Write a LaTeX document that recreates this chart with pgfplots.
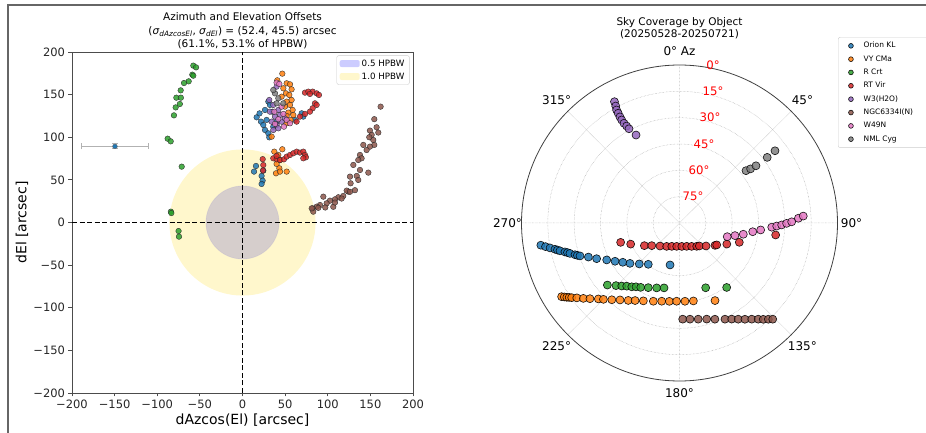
\documentclass[border=0pt]{standalone}
\usepackage{fontspec}
\setmainfont{DejaVu Sans}
\usepackage{pgfplots}
\usepackage{pgfplotstable}
\pgfplotsset{compat=1.18}
\usepgfplotslibrary{polar}
\definecolor{tabblue}{HTML}{1F77B4}
\definecolor{taborange}{HTML}{FF7F0E}
\definecolor{tabgreen}{HTML}{2CA02C}
\definecolor{tabred}{HTML}{D62728}
\definecolor{tabpurple}{HTML}{9467BD}
\definecolor{tabbrown}{HTML}{8C564B}
\definecolor{tabpink}{HTML}{E377C2}
\definecolor{tabgray}{HTML}{7F7F7F}
\definecolor{gold}{RGB}{255,215,0}
\pgfplotsset{
  leftpt/.style={forget plot, only marks, mark=*, mark size=2.8pt,
    mark options={draw=black!85, line width=0.4pt, fill=#1, fill opacity=0.85, draw opacity=0.9}},
  polpt/.style={only marks, mark=*, mark size=4pt, color=#1,
    mark options={draw=black, line width=0.6pt, fill=#1, fill opacity=0.85, draw opacity=0.9}},
}
% ---------- left panel data (dAzcos(El), dEl) ----------
\pgfplotstableread{
x y
26.4 132
30.3 141.8
32.2 137.9
16.6 123.4
21.7 118.3
24.4 114.4
28.3 120.3
26.4 108.5
30.3 104.6
31.4 99.9
69.4 128.1
71.3 124.2
61.5 120.3
36.1 112.4
40.0 118.3
15.8 66.3
13.5 59.7
22.4 54.6
24.4 60.8
23.6 49.1
22.4 45.2
35.0 130.0
20.0 128.0
}\leftorion
\pgfplotstableread{
x y
46.7 174.6
40.8 166.8
51.8 163.3
55.7 162.1
47.9 157.4
57.6 156.2
51.0 151.5
54.9 149.6
45.9 147.6
57.6 143.7
51.8 141.8
55.7 137.9
49.8 135.9
58.8 132.0
53.7 128.9
51.8 125.0
56.5 120.3
51.8 116.4
59.6 126.1
34.2 100.7
46.7 85.9
37.3 83.1
42.0 79.2
44.0 73.3
40.0 68.7
43.2 63.6
39.3 57.7
44.0 59.7
51.8 59.7
}\leftvy
\pgfplotstableread{
x y
-57.7 184
-54.5 182
-58.9 173.4
-57.7 172.2
-63.1 165.6
-68.6 163.6
-72.5 155
-77.6 146.4
-72.3 146.4
-73.5 139
-78.4 135
-80.4 125.7
-87.8 98.3
-84.2 95.2
-71.3 65.5
-84.0 12.7
-83.5 11.1
-75.0 -10.0
-74.5 -16.6
}\leftrcrt
\pgfplotstableread{
x y
73.3 152.3
77.2 153.5
82.3 153.5
87.0 151.5
89.7 149.6
79.1 150.8
85.0 139.8
87.0 137.9
82.3 134.0
79.1 130.0
73.3 127.3
67.4 124.2
63.5 118.3
36.1 75.3
40.0 74.1
44.0 73.3
48.6 74.1
51.8 77.2
55.7 79.2
59.6 81.2
63.5 83.1
67.4 82.0
71.3 83.1
73.3 79.2
74.4 76.5
71.3 75.3
40.0 78.1
23.7 74.3
24.4 67.4
24.0 61.0
}\leftrtvir
\pgfplotstableread{
x y
40.0 159.4
31.4 143.7
36.1 137.9
42.0 132.0
32.2 130.0
38.1 124.2
44.0 126.1
34.2 118.3
40.0 114.4
45.9 118.3
42.0 110.5
36.1 108.5
49.8 122.2
}\leftwthree
\pgfplotstableread{
x y
162.0 135.9
154.6 121.2
157.3 111.7
159.3 105.5
149.5 107.8
151.5 102.8
153.4 96.8
148.7 100.0
154.6 91.0
141.7 91.0
149.5 89.0
145.6 85.0
137.8 79.2
139.7 75.3
135.8 73.3
130.0 67.5
147.6 58.5
137.8 61.6
134.0 54.6
135.8 49.9
126.1 53.8
126.8 46.0
124.1 36.2
122.2 37.4
118.2 31.1
131.9 37.9
126.1 36.0
112.4 29.6
108.5 27.2
102.6 25.6
94.8 30.3
98.7 22.5
90.9 20.5
87.0 18.6
82.3 16.6
83.0 12.7
81.2 16.6
88.9 17.2
97.1 17.6
106.5 18.4
108.5 23.4
116.3 28.1
}\leftngc
\pgfplotstableread{
x y
40.0 164.1
43.2 162.5
37.3 130.0
47.9 127.3
42.0 121.2
51.8 120.3
45.9 135.9
55.7 116.4
38.1 115.6
48.6 112.4
}\leftwfn
\pgfplotstableread{
x y
38.1 151.5
42.0 145.7
36.1 155.4
40.0 139.8
47.9 139.8
}\leftnml
% ---------- right panel data (azimuth, elevation) ----------
\pgfplotstableread{
az el
260.9 10.0
260.0 12.5
259.1 14.9
258.1 17.5
257.5 18.8
256.9 20.1
255.8 22.7
255.2 24.0
254.5 25.2
253.1 27.8
252.4 29.0
251.7 30.3
249.5 34.6
246.7 38.6
243.1 43.5
239.3 47.3
235.3 50.7
230.8 53.6
224.5 57.3
217.1 60.5
192.7 65.5
}\polorion
\pgfplotstableread{
az el
238.0 10.8
237.3 12.0
236.6 13.1
236.0 14.2
235.3 15.3
233.9 17.6
231.9 20.4
229.8 23.2
226.9 26.7
224.9 28.6
221.4 31.7
217.7 34.6
213.5 37.1
209.8 39.1
204.9 41.1
198.5 43.0
192.8 44.3
187.4 45.0
182.1 45.4
176.0 45.3
169.9 44.9
155.4 41.4
}\polvy
\pgfplotstableread{
az el
229.3 35.8
225.4 39.2
222.5 41.3
219.9 43.1
216.8 44.6
214.3 46.0
211.1 47.2
205.8 49.1
199.4 50.8
193.4 52.0
158.0 50.2
143.8 44.5
}\polrcrt
\pgfplotstableread{
az el
251.8 54.7
246.6 59.7
237.2 66.2
230.8 69.6
220.3 72.8
208.8 74.8
198.3 76.0
186.9 76.6
174.4 76.6
162.9 76.1
152.6 75.0
143.6 73.5
139.2 72.7
130.9 70.0
122.2 66.1
120.5 65.4
114.0 60.5
107.9 54.2
97.1 34.8
}\polrtvir
\pgfplotstableread{
az el
331.8 11.6
331.4 14.1
330.9 16.3
330.8 18.4
330.7 20.7
330.7 22.7
330.9 25.0
331.4 27.1
331.8 29.1
333.7 34.1
}\polwthree
\pgfplotstableread{
az el
178.1 35.2
173.8 34.9
169.0 34.2
164.2 33.1
159.8 31.6
154.7 29.4
151.5 27.7
148.6 25.8
145.8 23.7
143.1 21.5
140.7 19.2
139.0 17.3
137.3 15.4
135.9 13.7
}\polngc
\pgfplotstableread{
az el
106.0 61.7
102.8 57.6
100.0 53.1
96.8 48.0
94.9 43.6
92.6 37.4
91.8 34.6
91.1 31.8
90.2 29.0
89.4 26.1
87.7 22.2
86.8 19.4
}\polwfn
\pgfplotstableread{
az el
51.8 41.8
52.7 39.1
53.2 35.6
53.2 27.6
52.9 21.8
}\polnml
\begin{document}
\begin{tikzpicture}[x=1pt,y=1pt]
\useasboundingbox (0,0) rectangle (926,433);
\draw[line width=2pt, black!60] (8,-2) -- (8,428) -- (930,428);
% ================= left panel =================
\begin{axis}[
  at={(72pt,40pt)}, anchor=south west, scale only axis,
  width=341pt, height=341pt,
  xmin=-200, xmax=200, ymin=-200, ymax=200,
  xtick={-200,-150,...,200}, ytick={-200,-150,...,200},
  xticklabels={−200,−150,−100,−50,0,50,100,150,200},
  yticklabels={−200,−150,−100,−50,0,50,100,150,200},
  tick align=outside, tick pos=left, major tick length=3.5pt,
  axis line style={black!70, line width=0.8pt},
  tick style={black!70, line width=0.8pt},
  tick label style={font=\fontsize{11.5}{12}\selectfont, text=black!85},
  legend cell align=left,
  legend style={at={(rel axis cs:0.99,0.99)}, anchor=north east,
    draw=black!20, rounded corners=2pt, fill=white,
    font=\fontsize{8.7}{10}\selectfont, inner xsep=3pt, inner ysep=2pt, row sep=1pt},
  legend image code/.code={\fill[#1] (0pt,-3.5pt) rectangle (20pt,3.5pt);},
]
\addlegendimage{fill=blue, fill opacity=0.2, draw=none}
\addlegendentry{0.5 HPBW}
\addlegendimage{fill=gold, fill opacity=0.2, draw=none}
\addlegendentry{1.0 HPBW}
\filldraw[fill=blue, fill opacity=0.2, draw=blue, draw opacity=0.08, line width=0.8pt] (axis cs:0,0) circle[radius=42.9];
\fill[gold, fill opacity=0.2] (axis cs:0,0) circle[radius=85.7];
\addplot[forget plot, black, dashed, line width=1.1pt, dash pattern=on 5pt off 2.5pt] coordinates {(0,-200) (0,200)};
\addplot[forget plot, black, dashed, line width=1.1pt, dash pattern=on 5pt off 2.5pt] coordinates {(-200,0) (200,0)};
\addplot[leftpt=tabblue] table[x=x,y=y] {\leftorion};
\addplot[leftpt=taborange] table[x=x,y=y] {\leftvy};
\addplot[leftpt=tabgreen] table[x=x,y=y] {\leftrcrt};
\addplot[leftpt=tabred] table[x=x,y=y] {\leftrtvir};
\addplot[leftpt=tabpurple] table[x=x,y=y] {\leftwthree};
\addplot[leftpt=tabbrown] table[x=x,y=y] {\leftngc};
\addplot[leftpt=tabpink] table[x=x,y=y] {\leftwfn};
\addplot[leftpt=tabgray] table[x=x,y=y] {\leftnml};
\addplot[forget plot, only marks, mark=*, mark size=2.4pt,
  mark options={fill=tabblue, draw=black!60, line width=0.4pt},
  error bars/.cd, x dir=both, x explicit, y dir=both, y explicit,
  error mark=|,
  error bar style={black!30, line width=0.9pt},
  error mark options={black!30, mark size=3pt, line width=0.9pt}]
  coordinates {(-149.6,89.3) +- (39.5,3)};
\end{axis}
\node[font=\fontsize{10.5}{12}\selectfont, anchor=base] at (242.5,412.5) {Azimuth and Elevation Offsets};
\node[font=\fontsize{10.5}{12}\selectfont, anchor=base] at (242.5,398.7) {(\textit{σ}\textsubscript{\textit{dAzcosEl}}, \textit{σ}\textsubscript{\textit{dEl}}) = (52.4, 45.5) arcsec};
\node[font=\fontsize{10.5}{12}\selectfont, anchor=base] at (242.5,385.7) {(61.1\%, 53.1\% of HPBW)};
\node[font=\fontsize{14}{16}\selectfont, rotate=90] at (22,210.5) {dEl [arcsec]};
\node[font=\fontsize{14}{16}\selectfont] at (242.5,13) {dAzcos(El) [arcsec]};
% ================= right panel =================
\begin{polaraxis}[
  at={(679.5pt,210pt)}, anchor=center, scale only axis,
  width=316pt, height=316pt,
  xmin=0, xmax=360, ymin=0, ymax=90,
  xtick={0,45,...,315}, ytick={15,30,45,60,75},
  xticklabels={}, yticklabels={},
  major tick length=0pt,
  xmajorgrids, ymajorgrids,
  major grid style={densely dotted, black!35, line width=0.5pt},
  x axis line style={black!75, line width=0.8pt},
  y axis line style={draw=none},
  clip=false,
  legend cell align=left,
  legend image code/.code={\path (0pt,0pt) (19pt,0pt);\draw[#1, mark size=2.4pt] plot coordinates {(8.5pt,0pt)};},
  legend style={at={(axis cs:49.55,139.2)}, anchor=north west,
    draw=black!20, rounded corners=2pt, fill=white,
    font=\fontsize{7.5}{8}\selectfont, inner xsep=4pt, inner ysep=3pt,
    row sep=2.2pt},
]
\addplot[polpt=tabblue] table[x expr=90-\thisrow{az}, y expr=90-\thisrow{el}] {\polorion};
\addlegendentry{Orion KL}
\addplot[polpt=taborange] table[x expr=90-\thisrow{az}, y expr=90-\thisrow{el}] {\polvy};
\addlegendentry{VY CMa}
\addplot[polpt=tabgreen] table[x expr=90-\thisrow{az}, y expr=90-\thisrow{el}] {\polrcrt};
\addlegendentry{R Crt}
\addplot[polpt=tabred] table[x expr=90-\thisrow{az}, y expr=90-\thisrow{el}] {\polrtvir};
\addlegendentry{RT Vir}
\addplot[polpt=tabpurple] table[x expr=90-\thisrow{az}, y expr=90-\thisrow{el}] {\polwthree};
\addlegendentry{W3(H2O)}
\addplot[polpt=tabbrown] table[x expr=90-\thisrow{az}, y expr=90-\thisrow{el}] {\polngc};
\addlegendentry{NGC6334I(N)\hspace*{30pt}}
\addplot[polpt=tabpink] table[x expr=90-\thisrow{az}, y expr=90-\thisrow{el}] {\polwfn};
\addlegendentry{W49N}
\addplot[polpt=tabgray] table[x expr=90-\thisrow{az}, y expr=90-\thisrow{el}] {\polnml};
\addlegendentry{NML Cyg}
% azimuth labels
\node[font=\fontsize{12}{14}\selectfont] at (axis cs:90,98) {0° Az};
\node[font=\fontsize{12}{14}\selectfont] at (axis cs:45,99) {45°};
\node[font=\fontsize{12}{14}\selectfont] at (axis cs:0,98) {90°};
\node[font=\fontsize{12}{14}\selectfont] at (axis cs:-45,99) {135°};
\node[font=\fontsize{12}{14}\selectfont] at (axis cs:270,97) {180°};
\node[font=\fontsize{12}{14}\selectfont] at (axis cs:225,99) {225°};
\node[font=\fontsize{12}{14}\selectfont] at (axis cs:180,98) {270°};
\node[font=\fontsize{12}{14}\selectfont] at (axis cs:135,99) {315°};
% elevation labels
\node[font=\fontsize{11.7}{14}\selectfont, text=red] at (axis cs:90,90) [xshift=33.5pt] {0°};
\node[font=\fontsize{11.7}{14}\selectfont, text=red] at (axis cs:90,75) [xshift=33.5pt] {15°};
\node[font=\fontsize{11.7}{14}\selectfont, text=red] at (axis cs:90,60) [xshift=30.5pt] {30°};
\node[font=\fontsize{11.7}{14}\selectfont, text=red] at (axis cs:90,45) [xshift=24.5pt] {45°};
\node[font=\fontsize{11.7}{14}\selectfont, text=red] at (axis cs:90,30) [xshift=19.5pt] {60°};
\node[font=\fontsize{11.7}{14}\selectfont, text=red] at (axis cs:90,15) [xshift=13.5pt] {75°};
\end{polaraxis}
\node[font=\fontsize{10.5}{12}\selectfont, anchor=base] at (679.5,407) {Sky Coverage by Object};
\node[font=\fontsize{10.5}{12}\selectfont, anchor=base] at (679.5,395) {(20250528-20250721)};
\end{tikzpicture}
\end{document}
